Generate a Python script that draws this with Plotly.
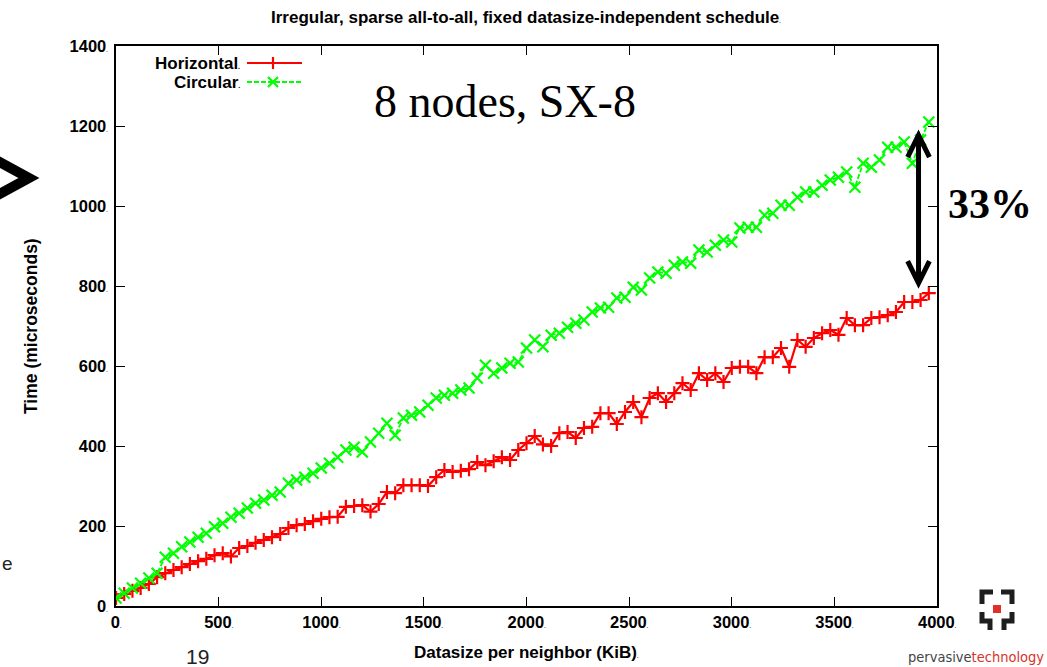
import plotly.graph_objects as go

# Datasize per neighbor (KiB), sampled every 40 KiB
datasize_kib = list(range(0, 4000, 40))

# Measured time (microseconds), horizontal schedule
horizontal_us = [
    20, 30, 38, 45, 55, 72, 82, 90, 97, 105,
    112, 118, 127, 132, 124, 145, 150, 158, 165, 172,
    180, 195, 202, 205, 212, 218, 222, 223, 248, 250,
    252, 236, 255, 285, 282, 302, 302, 302, 300, 322,
    340, 335, 338, 342, 360, 352, 362, 372, 365, 390,
    407, 425, 404, 400, 432, 435, 420, 445, 448, 482,
    482, 455, 485, 510, 472, 520, 532, 510, 532, 557,
    540, 582, 565, 582, 560, 595, 598, 598, 582, 622,
    622, 645, 598, 665, 648, 670, 682, 690, 678, 720,
    702, 702, 720, 722, 727, 735, 760, 760, 765, 782,
]

# Measured time (microseconds), circular schedule
circular_us = [
    20, 32, 45, 57, 70, 82, 122, 132, 148, 160,
    172, 182, 198, 207, 222, 232, 245, 257, 265, 277,
    285, 307, 315, 322, 332, 345, 357, 372, 390, 397,
    385, 410, 432, 457, 427, 470, 477, 485, 502, 520,
    527, 532, 540, 545, 570, 602, 582, 595, 607, 610,
    645, 665, 648, 677, 682, 697, 707, 715, 735, 745,
    747, 770, 772, 797, 790, 820, 835, 832, 852, 860,
    857, 890, 885, 902, 915, 910, 945, 947, 947, 977,
    982, 1002, 1002, 1022, 1035, 1035, 1052, 1065, 1072, 1085,
    1047, 1107, 1097, 1115, 1147, 1147, 1160, 1107, 1165, 1210,
]

x_ticks = [0, 500, 1000, 1500, 2000, 2500, 3000, 3500, 4000]
y_ticks = [0, 200, 400, 600, 800, 1000, 1200, 1400]

RED = "#ff0000"
GREEN = "#00ff00"
SANS = "Liberation Sans, Arial, sans-serif"
SERIF = "Liberation Serif, Times New Roman, serif"

W, H = 1047, 667
L, R, T, B = 116, 937, 46, 606  # plot area in pixels


def px(x):
    return (x - L) / (R - L)


def py(y):
    return (B - y) / (B - T)


def dotted(v):
    return f"{v}<span style='font-size:5px'>.</span>"


fig = go.Figure()

fig.add_trace(go.Scatter(
    x=datasize_kib, y=horizontal_us, mode="lines+markers", name="Horizontal",
    line=dict(color=RED, width=2.2),
    marker=dict(symbol="cross-thin", size=10, color=RED,
                line=dict(color=RED, width=2.2)),
    showlegend=False,
))
fig.add_trace(go.Scatter(
    x=datasize_kib, y=circular_us, mode="lines+markers", name="Circular",
    line=dict(color=GREEN, width=1.8, dash="5px,2px"),
    marker=dict(symbol="x-thin", size=11, color=GREEN,
                line=dict(color=GREEN, width=2.2)),
    showlegend=False,
))

axis_common = dict(
    showgrid=False, zeroline=False, showline=True, linecolor="black",
    linewidth=2, mirror="ticks", ticks="inside", ticklen=9,
    tickwidth=1.2, tickcolor="black",
    tickfont=dict(family=SANS, size=16.5, color="black", weight="bold"),
)

fig.update_xaxes(range=[0, 4000], tickvals=x_ticks,
                 ticktext=[dotted(v) for v in x_ticks], **axis_common)
fig.update_yaxes(range=[0, 1400], tickvals=y_ticks,
                 ticktext=[dotted(v) for v in y_ticks],
                 ticklabelstandoff=3, **axis_common)

shapes = []
annotations = []

# Title and axis labels
annotations.append(dict(
    text="Irregular, sparse all-to-all, fixed datasize-independent schedule<span style='font-size:5px'>.</span>",
    xref="paper", yref="paper", x=px(526), y=py(18), showarrow=False,
    font=dict(family=SANS, size=17, color="black", weight="bold"),
    xanchor="center", yanchor="middle"))
annotations.append(dict(
    text="Datasize per neighbor (KiB)<span style='font-size:5px'>.</span>",
    xref="paper", yref="paper", x=px(526), y=py(652), showarrow=False,
    font=dict(family=SANS, size=17, color="black", weight="bold"),
    xanchor="center", yanchor="middle"))
annotations.append(dict(
    text="Time (microseconds)", textangle=-90,
    xref="paper", yref="paper", x=px(31), y=py(326), showarrow=False,
    font=dict(family=SANS, size=17.5, color="black", weight="bold"),
    xanchor="center", yanchor="middle"))

# Key: labels on the left, line samples on the right
for label, ycen in (("Horizontal", 63), ("Circular", 82)):
    annotations.append(dict(
        text=label + "<span style='font-size:7px'>.</span>",
        xref="paper", yref="paper", x=px(242), y=py(ycen), showarrow=False,
        font=dict(family=SANS, size=17, color="black", weight="bold"),
        xanchor="right", yanchor="middle"))

shapes.append(dict(type="line", xref="paper", yref="paper",
                   x0=px(247), x1=px(302), y0=py(63), y1=py(63),
                   line=dict(color=RED, width=2.2)))
shapes.append(dict(type="path", xref="paper", yref="paper",
                   path=f"M {px(273)},{py(57)} L {px(273)},{py(69)}",
                   line=dict(color=RED, width=2.2)))
shapes.append(dict(type="line", xref="paper", yref="paper",
                   x0=px(247), x1=px(302), y0=py(82), y1=py(82),
                   line=dict(color=GREEN, width=2, dash="5px,2px")))
shapes.append(dict(type="path", xref="paper", yref="paper",
                   path=(f"M {px(268)},{py(77)} L {px(278)},{py(87)} "
                         f"M {px(268)},{py(87)} L {px(278)},{py(77)}"),
                   line=dict(color=GREEN, width=2.2)))

# Gap marker between the two schedules at the largest size
ax = 3910
top_tip, bot_tip = 1177, 807
shapes.append(dict(type="line", xref="x", yref="y", x0=ax, x1=ax,
                   y0=bot_tip + 5, y1=top_tip - 5,
                   line=dict(color="black", width=5)))
shapes.append(dict(type="path", xref="x", yref="y",
                   path=(f"M {ax - 53},{top_tip - 55} L {ax},{top_tip} "
                         f"L {ax + 53},{top_tip - 55}"),
                   line=dict(color="black", width=5)))
shapes.append(dict(type="path", xref="x", yref="y",
                   path=(f"M {ax - 53},{bot_tip + 55} L {ax},{bot_tip} "
                         f"L {ax + 53},{bot_tip + 55}"),
                   line=dict(color="black", width=5)))

annotations.append(dict(
    text="8 nodes, SX-8", xref="paper", yref="paper",
    x=px(372), y=py(102), showarrow=False, xanchor="left", yanchor="middle",
    font=dict(family=SERIF, size=46, color="black")))
annotations.append(dict(
    text="33%", xref="paper", yref="paper",
    x=px(946), y=py(204), showarrow=False, xanchor="left", yanchor="middle",
    font=dict(family=SERIF, size=42, color="black", weight="bold")))

# Slide decorations around the chart
shapes.append(dict(type="path", xref="paper", yref="paper",
                   path=f"M {px(-4)},{py(160)} L {px(29)},{py(178)} L {px(-4)},{py(196)}",
                   line=dict(color="black", width=10)))
annotations.append(dict(
    text="e", xref="paper", yref="paper", x=px(0), y=py(563),
    showarrow=False, xanchor="left", yanchor="middle",
    font=dict(family=SANS, size=19, color="#222222")))
annotations.append(dict(
    text="19", xref="paper", yref="paper", x=px(197), y=py(656),
    showarrow=False, xanchor="center", yanchor="middle",
    font=dict(family=SANS, size=21, color="#222222")))

# Logo mark: bracketed frame with a red centre square
logo_dark = "#1e1e1e"
for path in (
    f"M {px(982)},{py(604)} L {px(982)},{py(592)} L {px(993)},{py(592)}",
    f"M {px(1001)},{py(592)} L {px(1012)},{py(592)} L {px(1012)},{py(604)}",
    f"M {px(982)},{py(612)} L {px(982)},{py(621)} L {px(990)},{py(621)} L {px(990)},{py(630)}",
    f"M {px(1012)},{py(612)} L {px(1012)},{py(621)} L {px(1004)},{py(621)} L {px(1004)},{py(630)}",
):
    shapes.append(dict(type="path", xref="paper", yref="paper", path=path,
                       line=dict(color=logo_dark, width=5)))
shapes.append(dict(type="rect", xref="paper", yref="paper",
                   x0=px(993), x1=px(1001), y0=py(613), y1=py(605),
                   fillcolor="#e0302a", line=dict(width=0)))
annotations.append(dict(
    text="<span style='color:#444444'>pervasive</span><span style='color:#d8332b'>technology</span>",
    xref="paper", yref="paper", x=px(1046), y=py(657), showarrow=False,
    xanchor="right", yanchor="middle",
    font=dict(family="DejaVu Sans Condensed, DejaVu Sans, sans-serif", size=14.5)))

fig.update_layout(
    width=W, height=H,
    margin=dict(l=L, r=W - R, t=T, b=H - B),
    paper_bgcolor="white", plot_bgcolor="white",
    shapes=shapes, annotations=annotations,
    showlegend=False,
)

fig.write_html("out.html")
